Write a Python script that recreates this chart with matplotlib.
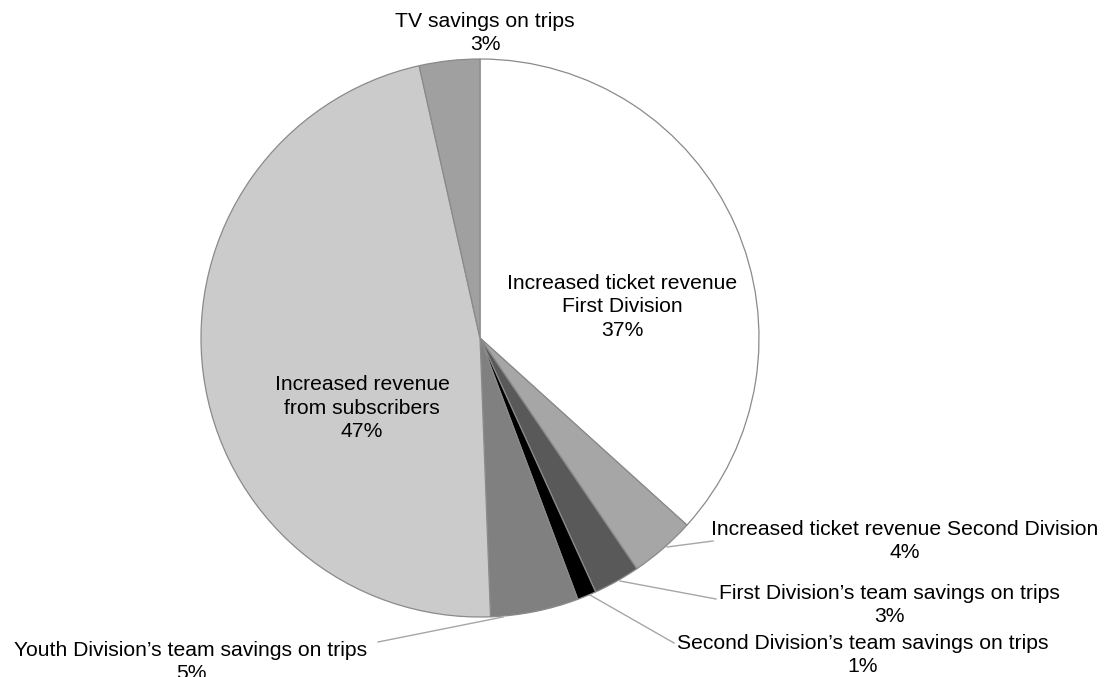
import matplotlib.pyplot as plt

plt.rcParams['font.family'] = ['Liberation Sans', 'DejaVu Sans']

categories = [
    "Increased ticket revenue\nFirst Division",
    "Increased ticket revenue Second Division",
    "First Division\u2019s team savings on trips",
    "Second Division\u2019s team savings on trips",
    "Youth Division\u2019s team savings on trips",
    "Increased revenue\nfrom subscribers",
    "TV savings on trips",
]
shares = [36.7, 3.8, 2.7, 1.1, 5.1, 47.1, 3.5]
pct_labels = ["37%", "4%", "3%", "1%", "5%", "47%", "3%"]
colors = ["#ffffff", "#a6a6a6", "#595959", "#000000", "#808080", "#cbcbcb", "#a0a0a0"]

W, H = 1104, 677
fig = plt.figure(figsize=(W / 100, H / 100), dpi=100)
ax = fig.add_axes([0, 0, 1, 1])

cx, cy, r = 480, H - 338, 279
ax.pie(shares, colors=colors, startangle=90, counterclock=False,
       center=(cx, cy), radius=r, frame=True,
       wedgeprops=dict(edgecolor='#8a8a8a', linewidth=0.9))
ax.set_xlim(0, W)
ax.set_ylim(0, H)
ax.set_aspect('equal')
ax.axis('off')

fs = 15.2
ls = 1.3
# labels inside the big slices
ax.text(622, H - 307, categories[0] + "\n" + pct_labels[0], ha='center', va='center',
        fontsize=fs, linespacing=ls)
ax.text(362, H - 408, categories[5] + "\n" + pct_labels[5], ha='center', va='center',
        fontsize=fs, linespacing=ls)

# outside labels: (index, text centre x, text centre y, leader start, leader end)
outside = [
    (6, 485, 33, None, None),
    (1, 905, 541, (667, 547), (713, 541)),
    (2, 889, 605, (620, 581), (716, 599)),
    (3, 863, 655, (590, 595), (674, 643)),
    (4, 191, 662, (503, 617), (378, 642)),
]
for i, tx, ty, p0, p1 in outside:
    ax.text(tx, H - ty, categories[i] + "\n" + pct_labels[i], ha='center', va='center',
            fontsize=fs, linespacing=ls)
    if p0 is not None:
        ax.plot([p0[0], p1[0]], [H - p0[1], H - p1[1]], color='#a6a6a6', lw=1.0)

fig.savefig("out.png", dpi=100)
